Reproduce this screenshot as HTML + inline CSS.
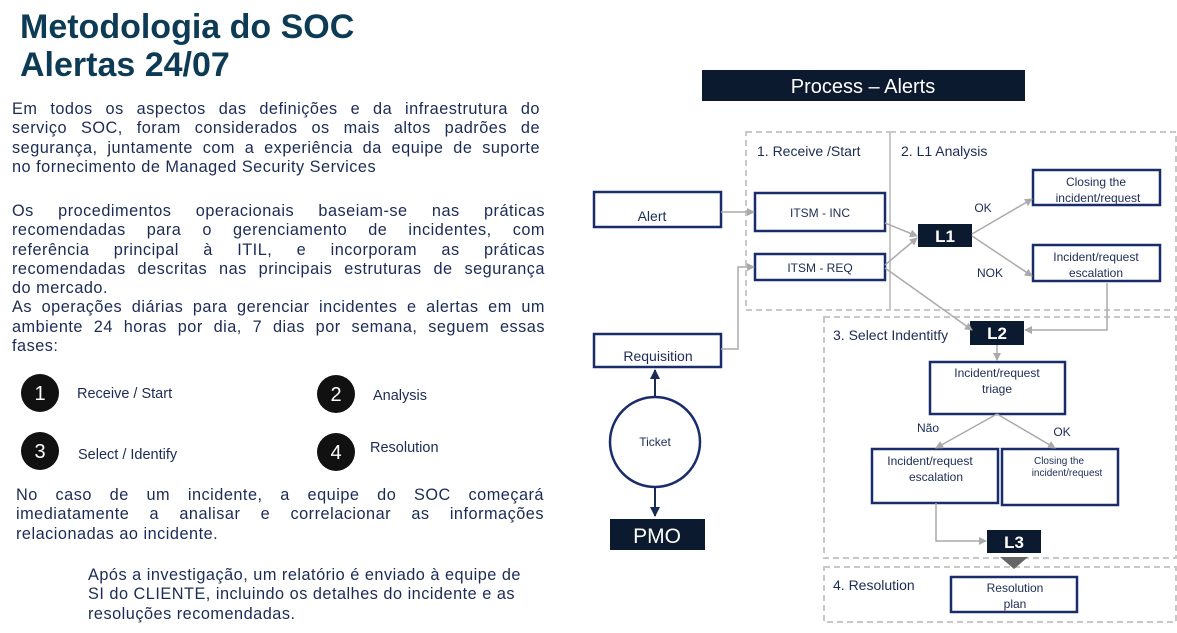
<!DOCTYPE html>
<html><head><meta charset="utf-8"><style>
body{margin:0;width:1177px;height:633px;background:#fff;position:relative;overflow:hidden;font-family:"Liberation Sans",sans-serif;}
.t{position:absolute;left:20px;top:8px;font-size:34px;font-weight:bold;color:#0d3b55;line-height:38px;}
.p{position:absolute;color:#1c2b55;font-size:16.3px;line-height:19.3px;text-align:justify;letter-spacing:0.5px;}
.p span{display:block;text-align:justify;text-align-last:justify;white-space:nowrap;}
.p span.l{text-align-last:left;}
svg{position:absolute;left:0;top:0;}
</style></head><body>
<div class="t">Metodologia do SOC<br>Alertas 24/07</div>
<div class="p" style="left:12px;top:100px;width:528px"><span>Em todos os aspectos das definições e da infraestrutura do</span><span>serviço SOC, foram considerados os mais altos padrões de</span><span>segurança, juntamente com a experiência da equipe de suporte</span><span class="l">no fornecimento de Managed Security Services</span></div>
<div class="p" style="left:12px;top:202px;width:533px"><span>Os procedimentos operacionais baseiam-se nas práticas</span><span>recomendadas para o gerenciamento de incidentes, com</span><span>referência principal à ITIL, e incorporam as práticas</span><span>recomendadas descritas nas principais estruturas de segurança</span><span class="l">do mercado.</span><span>As operações diárias para gerenciar incidentes e alertas em um</span><span>ambiente 24 horas por dia, 7 dias por semana, seguem essas</span><span class="l">fases:</span></div>
<div class="p" style="left:16px;top:486px;width:528px"><span>No caso de um incidente, a equipe do SOC começará</span><span>imediatamente a analisar e correlacionar as informações</span><span class="l">relacionadas ao incidente.</span></div>
<div class="p" style="left:88px;top:566px;width:460px;text-align:left"><span class="l">Após a investigação, um relatório é enviado à equipe de</span><span class="l">SI do CLIENTE, incluindo os detalhes do incidente e as</span><span class="l">resoluções recomendadas.</span></div>
<svg width="1177" height="633" font-family="Liberation Sans, sans-serif">
<defs><marker id="a" markerWidth="8" markerHeight="8" refX="7" refY="4" orient="auto" markerUnits="userSpaceOnUse"><path d="M0,0L8,4L0,8z" fill="#aaa"/></marker>
<marker id="b" markerWidth="10" markerHeight="10" refX="9" refY="5" orient="auto" markerUnits="userSpaceOnUse"><path d="M0,0L10,5L0,10z" fill="#1c2b55"/></marker></defs>
<g fill="#111" font-size="20" text-anchor="middle">
<circle cx="40" cy="393" r="19"/><circle cx="336" cy="394" r="19"/><circle cx="40" cy="451" r="19"/><circle cx="336" cy="452" r="19"/>
<g fill="#fff"><text x="40" y="400">1</text><text x="336" y="401">2</text><text x="40" y="458">3</text><text x="336" y="459">4</text></g></g>
<g fill="#1c2b55" font-size="14.5"><text x="77" y="398">Receive / Start</text><text x="373" y="400">Analysis</text><text x="78" y="459">Select / Identify</text><text x="370" y="452">Resolution</text></g>
<rect x="702" y="70" width="323" height="31" fill="#0b1a2e"/>
<text x="863" y="93" fill="#fff" font-size="20" text-anchor="middle">Process – Alerts</text>
<g fill="none" stroke="#c8c8c8" stroke-width="2" stroke-dasharray="6,4">
<rect x="746" y="132" width="144" height="178"/><rect x="890" y="132" width="286" height="178"/>
<rect x="824" y="317" width="352" height="241"/><rect x="824" y="567" width="352" height="55"/></g>
<g fill="#fff" stroke="#1a2d6b" stroke-width="2.5">
<rect x="594" y="192" width="127" height="35"/><rect x="594" y="334" width="127" height="33"/>
<rect x="755" y="193" width="130" height="38"/><rect x="755" y="254" width="130" height="26"/>
<rect x="1033" y="170" width="127" height="35"/><rect x="1033" y="245" width="127" height="36"/>
<rect x="930" y="362" width="135" height="52"/><rect x="872" y="449" width="126" height="54"/>
<rect x="1002" y="449" width="116" height="56"/><rect x="951" y="577" width="126" height="35"/>
<circle cx="655" cy="442" r="45"/></g>
<g fill="#0b1a2e"><rect x="918" y="224" width="54" height="23"/><rect x="970" y="321" width="54" height="24"/><rect x="987" y="530" width="54" height="23"/><rect x="610" y="519" width="95" height="31"/><path d="M1000,557L1028,557L1014,569z" fill="#666"/></g>
<g fill="#fff" font-weight="bold" font-size="17" text-anchor="middle"><text x="945" y="242">L1</text><text x="997" y="339">L2</text><text x="1014" y="548">L3</text></g>
<text x="657" y="543" fill="#fff" font-size="21" text-anchor="middle">PMO</text>
<g fill="none" stroke="#aaa" stroke-width="1.5" marker-end="url(#a)">
<path d="M721,212L754,212"/><path d="M721,349L738,349L738,267L754,267"/>
<path d="M885,223L917,236"/><path d="M885,265L917,238"/><path d="M885,268L972,330"/>
<path d="M972,234L1032,199"/><path d="M972,236L1032,276"/>
<path d="M1107,283L1107,330L1025,330"/><path d="M997,345L997,360"/>
<path d="M997,414L936,448"/><path d="M997,414L1055,448"/>
<path d="M936,503L936,541L986,541"/></g>
<g stroke="#1c2b55" stroke-width="2" marker-end="url(#b)"><path d="M655,397L655,370"/><path d="M655,487L655,516"/></g>
<g fill="#1c2b55" font-size="14" text-anchor="middle">
<text x="652" y="221">Alert</text><text x="658" y="361">Requisition</text>
<text x="820" y="217" font-size="12">ITSM - INC</text><text x="820" y="272" font-size="12">ITSM - REQ</text>
<text x="1096" y="186" font-size="12">Closing the</text><text x="1098" y="202" font-size="12">incident/request</text>
<text x="1096" y="261" font-size="12">Incident/request</text><text x="1096" y="277" font-size="12">escalation</text>
<text x="997" y="377" font-size="12">Incident/request</text><text x="997" y="393" font-size="12">triage</text>
<text x="930" y="465" font-size="12">Incident/request</text><text x="936" y="481" font-size="12">escalation</text>
<text x="1059" y="464" font-size="10">Closing the</text><text x="1067" y="476" font-size="10">incident/request</text>
<text x="1015" y="592" font-size="12">Resolution</text><text x="1015" y="608" font-size="12">plan</text>
<text x="655" y="446" font-size="12">Ticket</text>
<text x="983" y="212" font-size="12">OK</text><text x="990" y="277" font-size="12">NOK</text>
<text x="928" y="432" font-size="12">Não</text><text x="1062" y="436" font-size="12">OK</text></g>
<g fill="#1c2b55" font-size="14"><text x="757" y="156">1. Receive /Start</text><text x="901" y="156">2. L1 Analysis</text><text x="833" y="340">3. Select  Indentitfy</text><text x="833" y="590">4. Resolution</text></g>
</svg>
</body></html>
